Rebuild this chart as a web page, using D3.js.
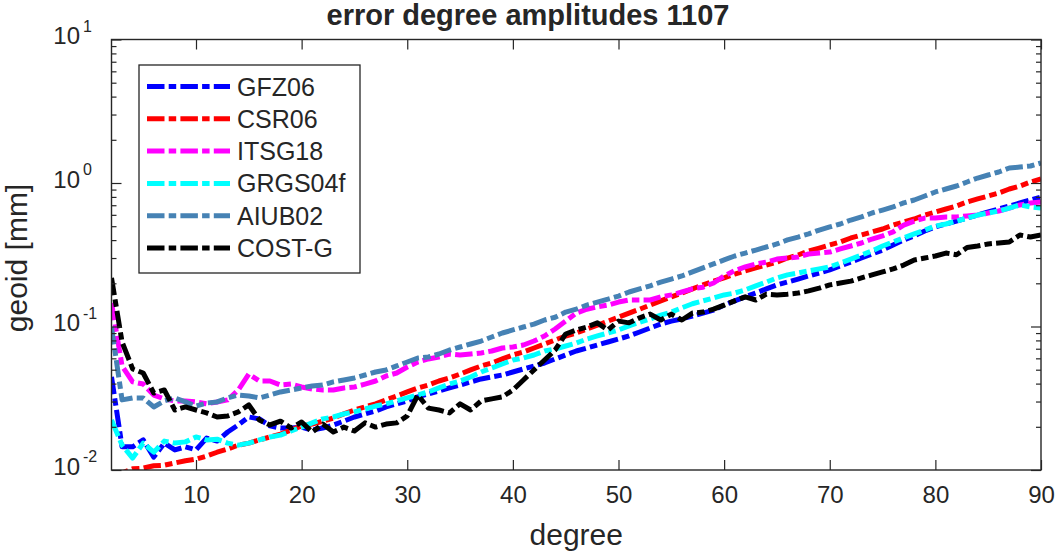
<!DOCTYPE html>
<html><head><meta charset="utf-8">
<script src="https://cdn.jsdelivr.net/npm/d3@7"></script>
<style>
body{margin:0;background:#fff}
svg{display:block}
text{font-family:"Liberation Sans",Arial,Helvetica,sans-serif;fill:#262626}
</style>
</head><body>
<svg id="c" width="1056" height="556"></svg>
<script>
// ---------- data ----------
const degree = [2,3,4,5,6,7,8,9,10,
 11,12,13,14,15,16,17,18,19,20,
 21,22,23,24,25,26,27,28,29,30,
 31,32,33,34,35,36,37,38,39,40,
 41,42,43,44,45,46,47,48,49,50,
 51,52,53,54,55,56,57,58,59,60,
 61,62,63,64,65,66,67,68,69,70,
 71,72,73,74,75,76,77,78,79,80,
 81,82,83,84,85,86,87,88,89,90];

const seriesNames = ["GFZ06","CSR06","ITSG18","GRGS04f","AIUB02","COST-G"];
const seriesColors = ["#0000ff","#ff0000","#ff00ff","#00ffff","#4682b4","#000000"];

const gfz06 = [0.0446,0.0145,0.0145,0.0162,0.0123,0.0154,0.0138,0.0145,0.0138,
 0.0167,0.0159,0.0184,0.0206,0.0234,0.0227,0.0203,0.0196,0.0196,0.0199,
 0.0190,0.0196,0.0206,0.0219,0.0234,0.0246,0.0258,0.0275,0.0289,0.0303,
 0.0323,0.0339,0.0355,0.0373,0.0391,0.0411,0.0431,0.0445,0.0459,0.0482,
 0.0506,0.0531,0.0557,0.0594,0.0633,0.0675,0.0708,0.0743,0.0780,0.0818,
 0.0859,0.0916,0.0977,0.104,0.109,0.113,0.118,0.124,0.130,0.141,
 0.151,0.161,0.171,0.183,0.195,0.204,0.214,0.225,0.236,0.248,
 0.264,0.281,0.300,0.320,0.341,0.370,0.401,0.428,0.463,0.494,
 0.518,0.543,0.570,0.598,0.628,0.659,0.691,0.726,0.761,0.798];

const csr06 = [0.00908,0.00953,0.0102,0.0103,0.0107,0.0108,0.0112,0.0116,0.0119,
 0.0125,0.0133,0.0140,0.0149,0.0154,0.0162,0.0170,0.0178,0.0190,0.0203,
 0.0209,0.0219,0.0230,0.0246,0.0262,0.0275,0.0289,0.0308,0.0328,0.0350,
 0.0373,0.0391,0.0417,0.0438,0.0466,0.0498,0.0531,0.0557,0.0594,0.0633,
 0.0664,0.0708,0.0755,0.0805,0.0859,0.0901,0.0961,0.102,0.109,0.116,
 0.124,0.132,0.141,0.151,0.161,0.171,0.183,0.195,0.207,0.218,
 0.232,0.244,0.256,0.268,0.281,0.300,0.315,0.336,0.352,0.370,
 0.388,0.414,0.434,0.456,0.478,0.509,0.535,0.561,0.598,0.628,
 0.659,0.691,0.738,0.774,0.812,0.851,0.908,0.953,1.016,1.066];

const itsg18 = [0.146,0.0531,0.0411,0.0397,0.0333,0.0313,0.0303,0.0303,0.0298,
 0.0289,0.0298,0.0308,0.0361,0.0466,0.0417,0.0417,0.0391,0.0397,0.0379,
 0.0367,0.0361,0.0361,0.0373,0.0379,0.0397,0.0417,0.0452,0.0474,0.0522,
 0.0566,0.0594,0.0613,0.0643,0.0633,0.0643,0.0654,0.0675,0.0708,0.0720,
 0.0743,0.0792,0.0859,0.0961,0.109,0.124,0.132,0.137,0.141,0.148,
 0.153,0.153,0.153,0.161,0.166,0.174,0.183,0.188,0.201,0.225,
 0.245,0.260,0.273,0.281,0.295,0.300,0.305,0.320,0.325,0.330,
 0.347,0.364,0.382,0.407,0.428,0.456,0.509,0.543,0.570,0.570,
 0.580,0.580,0.589,0.598,0.618,0.638,0.669,0.703,0.726,0.737];

const grgs04f = [0.0223,0.0149,0.0121,0.0154,0.0133,0.0159,0.0154,0.0157,0.0170,
 0.0162,0.0164,0.0154,0.0149,0.0154,0.0162,0.0170,0.0175,0.0187,0.0199,
 0.0213,0.0227,0.0234,0.0246,0.0254,0.0266,0.0279,0.0289,0.0303,0.0318,
 0.0333,0.0350,0.0373,0.0397,0.0417,0.0445,0.0482,0.0514,0.0548,0.0584,
 0.0603,0.0633,0.0675,0.0697,0.0731,0.0767,0.0818,0.0859,0.0901,0.0946,
 0.101,0.107,0.113,0.120,0.126,0.135,0.144,0.151,0.158,0.166,
 0.171,0.180,0.192,0.204,0.218,0.229,0.236,0.244,0.252,0.260,
 0.277,0.295,0.315,0.336,0.364,0.388,0.414,0.442,0.470,0.501,
 0.518,0.543,0.570,0.598,0.618,0.638,0.669,0.703,0.681,0.669];

const aiub02 = [0.0992,0.0308,0.0318,0.0318,0.0275,0.0303,0.0318,0.0298,0.0279,
 0.0293,0.0298,0.0318,0.0333,0.0328,0.0318,0.0333,0.0350,0.0361,0.0373,
 0.0385,0.0391,0.0411,0.0424,0.0438,0.0459,0.0482,0.0498,0.0531,0.0566,
 0.0603,0.0613,0.0643,0.0686,0.0720,0.0755,0.0792,0.0845,0.0901,0.0946,
 0.0992,0.104,0.111,0.116,0.126,0.132,0.141,0.148,0.155,0.163,
 0.174,0.183,0.192,0.204,0.214,0.225,0.240,0.256,0.273,0.291,
 0.310,0.325,0.341,0.358,0.376,0.401,0.420,0.442,0.470,0.494,
 0.518,0.552,0.580,0.618,0.648,0.681,0.726,0.761,0.812,0.866,
 0.908,0.953,1.016,1.083,1.137,1.193,1.272,1.292,1.313,1.378];

const costg = [0.218,0.0780,0.0506,0.0474,0.0344,0.0361,0.0262,0.0275,0.0262,
 0.0250,0.0234,0.0238,0.0254,0.0284,0.0223,0.0206,0.0219,0.0196,0.0216,
 0.0184,0.0209,0.0184,0.0199,0.0187,0.0213,0.0199,0.0209,0.0213,0.0238,
 0.0333,0.0270,0.0262,0.0250,0.0289,0.0262,0.0303,0.0313,0.0323,0.0361,
 0.0424,0.0498,0.0584,0.0686,0.0887,0.0946,0.0992,0.106,0.0946,0.109,
 0.106,0.115,0.122,0.111,0.122,0.111,0.124,0.126,0.132,0.141,
 0.151,0.161,0.153,0.168,0.166,0.168,0.171,0.177,0.185,0.195,
 0.201,0.207,0.218,0.229,0.240,0.252,0.268,0.291,0.300,0.310,
 0.325,0.316,0.355,0.364,0.376,0.382,0.388,0.434,0.420,0.434];

const seriesValues = [gfz06, csr06, itsg18, grgs04f, aiub02, costg];

const xTicks = [10,20,30,40,50,60,70,80,90];
const yTicks = [0.01,0.1,1,10];
const yTickExp = ["-2","-1","0","1"];
const titleText = "error degree amplitudes 1107";
const xLabel = "degree";
const yLabel = "geoid [mm]";

// ---------- layout ----------
const m={l:111.5,r:1041,t:39.5,b:470};
const axisColor="#262626";
const svg=d3.select("#c");

const x=d3.scaleLinear().domain([2,90]).range([m.l,m.r]);
const y=d3.scaleLog().domain([0.01,10]).range([m.b,m.t]);

svg.append("defs").append("clipPath").attr("id","clip")
  .append("rect").attr("x",m.l).attr("y",m.t).attr("width",m.r-m.l).attr("height",m.b-m.t);

const dash="17.5,4.2,7.5,4.2";
const lw=5;

// lines
const line=d3.line().x((d,i)=>x(degree[i])).y(d=>y(d));
const gLines=svg.append("g").attr("clip-path","url(#clip)");
seriesValues.forEach((vals,k)=>{
  gLines.append("path").datum(vals)
    .attr("d",line)
    .attr("fill","none")
    .attr("stroke",seriesColors[k])
    .attr("stroke-width",lw)
    .attr("stroke-dasharray",dash)
    .attr("stroke-linejoin","round");
});

// minor ticks
const minors=[];
[0.01,0.1,1].forEach(b=>{for(let i=2;i<=9;i++)minors.push(b*i);});

function styleAxis(g){
  g.select(".domain").remove();
  g.selectAll(".tick line").attr("stroke",axisColor).attr("stroke-width",1.2);
}
svg.append("g").attr("transform",`translate(0,${m.b})`)
  .call(d3.axisBottom(x).tickValues(xTicks).tickSize(-10).tickPadding(16).tickFormat(d3.format("d")))
  .call(styleAxis)
  .call(g=>g.selectAll("text").attr("font-size",24).attr("fill",axisColor).style("font-family",'"Liberation Sans",Arial,sans-serif'));
svg.append("g").attr("transform",`translate(0,${m.t})`)
  .call(d3.axisTop(x).tickValues(xTicks).tickSize(-10).tickFormat(""))
  .call(styleAxis);
svg.append("g").attr("transform",`translate(${m.l},0)`)
  .call(d3.axisLeft(y).tickValues(yTicks).tickSize(-10).tickFormat(""))
  .call(styleAxis);
svg.append("g").attr("transform",`translate(${m.l},0)`)
  .call(d3.axisLeft(y).tickValues(minors).tickSize(-5).tickFormat(""))
  .call(styleAxis);
svg.append("g").attr("transform",`translate(${m.r},0)`)
  .call(d3.axisRight(y).tickValues(yTicks).tickSize(-10).tickFormat(""))
  .call(styleAxis);
svg.append("g").attr("transform",`translate(${m.r},0)`)
  .call(d3.axisRight(y).tickValues(minors).tickSize(-5).tickFormat(""))
  .call(styleAxis);

svg.append("rect").attr("x",m.l).attr("y",m.t).attr("width",m.r-m.l).attr("height",m.b-m.t)
  .attr("fill","none").attr("stroke",axisColor).attr("stroke-width",1.4);

// y tick labels 10^n
yTicks.forEach((v,i)=>{
  svg.append("text").attr("x",80).attr("y",y(v)+4.5)
    .attr("text-anchor","end").attr("font-size",24).text("10");
  svg.append("text").attr("x",83).attr("y",y(v)-8)
    .attr("text-anchor","start").attr("font-size",16).text(yTickExp[i]);
});

svg.append("text").attr("x",528).attr("y",25).attr("text-anchor","middle")
  .attr("font-size",29).attr("font-weight","bold").attr("fill","#000").text(titleText);
svg.append("text").attr("x",(m.l+m.r)/2).attr("y",545).attr("text-anchor","middle")
  .attr("font-size",30).text(xLabel);
svg.append("text").attr("transform","translate(27,258) rotate(-90)").attr("text-anchor","middle")
  .attr("font-size",30).text(yLabel);

// legend
const lg=svg.append("g");
lg.append("rect").attr("x",139).attr("y",65).attr("width",221).attr("height",208)
  .attr("fill","#fff").attr("stroke",axisColor).attr("stroke-width",1.3);
seriesNames.forEach((n,k)=>{
  const ly=86.5+k*32.3;
  lg.append("line").attr("x1",147).attr("x2",230).attr("y1",ly).attr("y2",ly)
    .attr("stroke",seriesColors[k]).attr("stroke-width",lw).attr("stroke-dasharray",dash);
  lg.append("text").attr("x",237).attr("y",ly+9).attr("font-size",25).attr("fill","#000").text(n);
});
</script>
</body></html>
